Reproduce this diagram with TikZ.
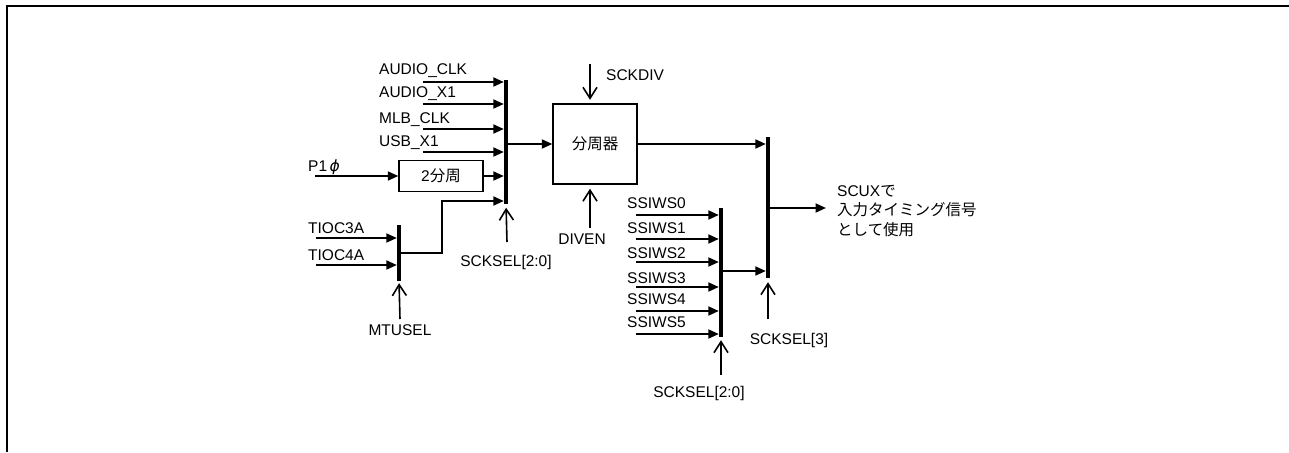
\documentclass[tikz,border=0pt]{standalone}
\usepackage{fontspec}
\setmainfont{Liberation Sans}
\newfontfamily\jp{Noto Sans CJK JP}
\newfontfamily\dvs{DejaVu Sans}
\usetikzlibrary{arrows.meta}
\begin{document}
\begin{tikzpicture}[x=1pt,y=-1pt,
  lbl/.style={font=\fontsize{15.5}{19.5}\selectfont, inner sep=0pt, anchor=base west},
  clbl/.style={font=\fontsize{15.5}{19.5}\selectfont, inner sep=0pt, anchor=base},
  sig/.style={line width=1.9pt, -{Triangle[length=10.5pt,width=9pt]}},
  ctl/.style={line width=1.6pt, -{Straight Barb[length=11pt,width=14pt,line width=1.6pt]}},
  bar/.style={fill=black, draw=none, inner sep=0pt, minimum width=4pt},
  blk/.style={draw=black, line width=1.4pt, inner sep=0pt, font=\fontsize{15.5}{19.5}\selectfont}
]
\useasboundingbox (0,0) rectangle (1289,452);
\draw[line width=2.6pt, line join=miter] (1289,6) -- (7,6) -- (7,452);

% selector bars
\node[bar, minimum height=124pt] (m1) at (506,142) {};
\node[bar, minimum height=56pt]  (m2) at (399,253) {};
\node[bar, minimum height=141pt] (m3) at (768,207.5) {};
\node[bar, minimum height=129pt] (m4) at (721,272.5) {};

% blocks
\node[blk, minimum width=84pt, minimum height=31pt] (half) at (441,176) {2{\jp 分周}};
\node[blk, minimum width=84pt, minimum height=80pt] (div) at (595,144) {{\jp 分周器}};

% labels
\node[lbl] (lA) at (379,74.5) {AUDIO\_CLK};
\node[lbl] (lB) at (379,97.5) {AUDIO\_X1};
\node[lbl] (lC) at (379,123) {MLB\_CLK};
\node[lbl] (lD) at (379,146.7) {USB\_X1};
\node[lbl] (lP) at (308,171.7) {P1\,{\dvs\itshape ϕ}};
\node[lbl] (lT3) at (308,233.3) {TIOC3A};
\node[lbl] (lT4) at (308,260) {TIOC4A};
\node[clbl] (lMT) at (400,335) {MTUSEL};
\node[clbl] (lS1) at (506,266) {SCKSEL[2:0]};
\node[lbl] (lDIV) at (606,81) {SCKDIV};
\node[clbl] (lEN) at (582,244) {DIVEN};
\node[lbl] (w0) at (627,208) {SSIWS0};
\node[lbl] (w1) at (627,233) {SSIWS1};
\node[lbl] (w2) at (627,258) {SSIWS2};
\node[lbl] (w3) at (627,283) {SSIWS3};
\node[lbl] (w4) at (627,304) {SSIWS4};
\node[lbl] (w5) at (627,327.7) {SSIWS5};
\node[clbl] (lS3) at (789,344) {SCKSEL[3]};
\node[clbl] (lS2) at (699,397) {SCKSEL[2:0]};
\node[lbl] (o1) at (837,196) {SCUX{\jp で}};
\node[lbl] (o2) at (837,215.5) {\jp 入力タイミング信号};
\node[lbl] (o3) at (837,235) {\jp として使用};

% input coordinates
\coordinate (iA) at (423,82);
\coordinate (iB) at (423,104);
\coordinate (iC) at (423,129);
\coordinate (iD) at (423,152);
\coordinate (iP) at (315,176);
\coordinate (iT3) at (316,238);
\coordinate (iT4) at (316,265);
\coordinate (j1) at (442,201);
\coordinate (s0) at (636,215);
\coordinate (s1) at (636,239);
\coordinate (s2) at (636,262);
\coordinate (s3) at (636,287);
\coordinate (s4) at (636,311);
\coordinate (s5) at (636,334);
\coordinate (out) at (826,208);
\coordinate (cS1) at (507,242);
\coordinate (cDIV) at (590,64);
\coordinate (cEN) at (590,228);
\coordinate (cMT) at (400,319);
\coordinate (cS3) at (768,319);
\coordinate (cS2) at (721,375);

% signal arrows
\foreach \c in {iA,iB,iC,iD} \draw[sig] (\c) -- (\c -| m1.west);
\draw[sig] (iP) -- (half.west);
\draw[sig] (half.east) -- (half.east -| m1.west);
\draw[sig] (iT3) -- (iT3 -| m2.west);
\draw[sig] (iT4) -- (iT4 -| m2.west);
\draw[sig] (m2.east |- 0,253) -| (j1) -- (j1 -| m1.west);
\draw[sig] (m1.east |- div.west) -- (div.west);
\draw[sig] (div.east) -- (div.east -| m3.west);
\foreach \c in {s0,s1,s2,s3,s4,s5} \draw[sig] (\c) -- (\c -| m4.west);
\draw[sig] (m4.east |- 0,271) -- (m3.west |- 0,271);
\draw[sig] (m3.east |- out) -- (out);

% control arrows
\draw[ctl, shorten >=3.5pt] (cS1) -- (m1.south);
\draw[ctl, shorten >=3.5pt] (cDIV) -- (cDIV |- div.north);
\draw[ctl, shorten >=4pt] (cEN) -- (cEN |- div.south);
\draw[ctl, shorten >=2pt] (cMT) -- (m2.south);
\draw[ctl, shorten >=4pt] (cS3) -- (m3.south);
\draw[ctl, shorten >=3pt] (cS2) -- (m4.south);
\end{tikzpicture}
\end{document}
